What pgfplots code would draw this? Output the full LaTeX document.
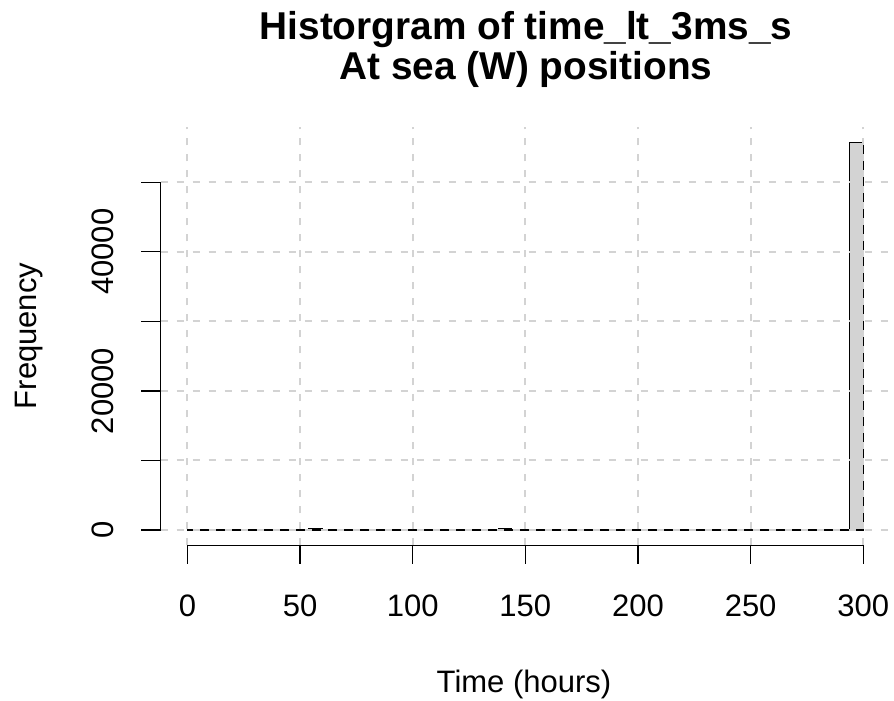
\documentclass[border=0pt]{standalone}
\usepackage{pgfplots}
\pgfplotsset{compat=1.18}
\usepackage{fontspec}
\setmainfont{Liberation Sans}
\definecolor{rgray}{HTML}{D3D3D3}

% histogram counts, bins of width 6 (last row repeats for ybar interval)
\begin{document}
\begin{tikzpicture}
\useasboundingbox (0,0) rectangle (447pt,350.5pt);
\begin{axis}[
    at={(80.35pt,77.75pt)}, anchor=south west,
    width=364.8pt, height=209.35pt, scale only axis,
    xmin=-11.86, xmax=312, ymin=-2230, ymax=57980,
    axis line style={draw=none},
    xtick=\empty, ytick=\empty,
    clip=false,
]
\addplot[ybar interval, fill=rgray, draw=black, line width=0.65pt] table {
x y
0 40
6 30
12 35
18 30
24 40
30 35
36 30
42 40
48 60
54 260
60 50
66 40
72 35
78 30
84 30
90 35
96 30
102 30
108 30
114 35
120 30
126 35
132 40
138 220
144 60
150 40
156 35
162 30
168 30
174 30
180 35
186 30
192 30
198 30
204 30
210 30
216 30
222 30
228 30
234 30
240 30
246 30
252 30
258 30
264 30
270 30
276 35
282 40
288 60
294 55750
300 55750
};
% grid, drawn over the bars as R does
\pgfplotsinvokeforeach{0,50,100,150,200,250,300}{
  \draw[rgray, line width=1pt, dash pattern=on 3.5pt off 4.5pt]
    (axis cs:#1,-2230) -- (axis cs:#1,57980);
}
\pgfplotsinvokeforeach{0,10000,20000,30000,40000,50000}{
  \draw[rgray, line width=1pt, dash pattern=on 3.5pt off 4.5pt]
    (axis cs:-11.86,#1) -- (axis cs:312,#1);
}
% R style axes
\draw[black, line width=0.6pt] (axis cs:0,-2230) -- (axis cs:300,-2230);
\draw[black, line width=0.6pt] (axis cs:-11.86,0) -- (axis cs:-11.86,50000);
\pgfplotsinvokeforeach{0,50,100,150,200,250,300}{
  \draw[black, line width=0.6pt] (axis cs:#1,-2230) -- ([yshift=-9.3pt]axis cs:#1,-2230);
  \node[anchor=base, inner sep=0pt, font=\fontsize{15.5}{18}\selectfont]
    at ([yshift=-35.5pt]axis cs:#1,-2230) {#1};
}
\pgfplotsinvokeforeach{0,10000,20000,30000,40000,50000}{
  \draw[black, line width=0.6pt] (axis cs:-11.86,#1) -- ([xshift=-9.7pt]axis cs:-11.86,#1);
}
\pgfplotsinvokeforeach{0,20000,40000}{
  \node[anchor=base, rotate=90, inner sep=0pt, font=\fontsize{15.5}{18}\selectfont]
    at ([xshift=-23.85pt]axis cs:-11.86,#1) {#1};
}
\end{axis}
\node[anchor=base, inner sep=0pt, font=\bfseries\fontsize{19.4}{22}\selectfont]
  at (263pt,330.5pt) {Historgram of time\_lt\_3ms\_s};
\node[anchor=base, inner sep=0pt, font=\bfseries\fontsize{19.4}{22}\selectfont]
  at (263pt,310.5pt) {At sea (W) positions};
\node[anchor=base, inner sep=0pt, font=\fontsize{15.5}{18}\selectfont]
  at (262pt,4pt) {Time (hours)};
\node[anchor=base, rotate=90, inner sep=0pt, font=\fontsize{15.5}{18}\selectfont]
  at (18pt,182.5pt) {Frequency};
\end{tikzpicture}
\end{document}
